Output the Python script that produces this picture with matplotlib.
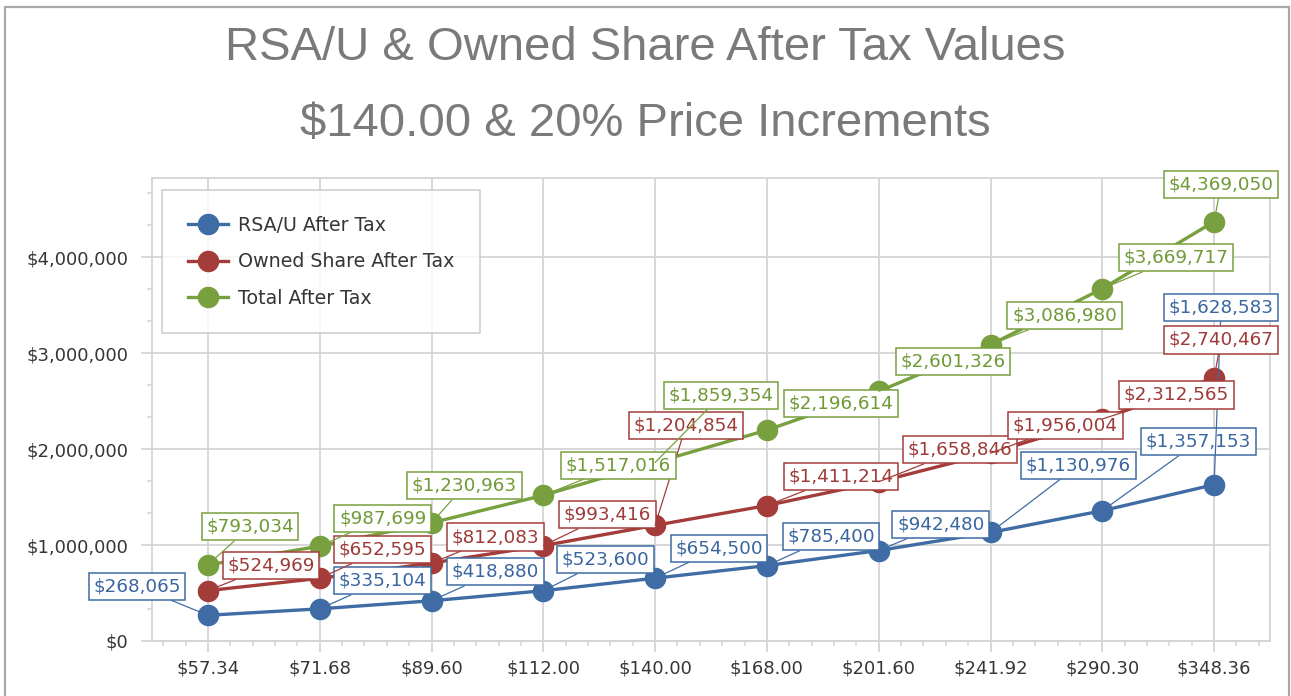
import matplotlib
matplotlib.use("Agg")
import matplotlib.pyplot as plt
from matplotlib.ticker import FixedLocator, MultipleLocator, FuncFormatter
from matplotlib.patches import Rectangle

# --- data ---
prices = ["$57.34", "$71.68", "$89.60", "$112.00", "$140.00",
          "$168.00", "$201.60", "$241.92", "$290.30", "$348.36"]
rsa_after_tax = [268065, 335104, 418880, 523600, 654500,
                 785400, 942480, 1130976, 1357153, 1628583]
owned_after_tax = [524969, 652595, 812083, 993416, 1204854,
                   1411214, 1658846, 1956004, 2312565, 2740467]
total_after_tax = [793034, 987699, 1230963, 1517016, 1859354,
                   2196614, 2601326, 3086980, 3669717, 4369050]
series_names = ["RSA/U After Tax", "Owned Share After Tax", "Total After Tax"]

# --- label offsets (pixels, from point to label centre) ---
rsa_offsets = [(-71, 29), (63, 28), (64, 29), (62, 31), (64, 30),
               (64, 29), (62, 26), (88, 67), (96, 69), (7, 177)]
owned_offsets = [(63, 25), (63, 29), (64, 26), (64, 31), (31, 100),
                 (74, 29), (81, 32), (75, 28), (74, 24), (7, 38)]
total_offsets = [(42, 38), (63, 28), (33, 37), (75, 30), (66, 67),
                 (74, 27), (74, 30), (74, 29), (74, 31), (7, 37)]

colors = ["#3F6CA4", "#A43C3A", "#78A03E"]
text_colors = ["#3A66A0", "#9E3A38", "#6F9A35"]
grid_col = "#D4D4D4"
tick_col = "#363636"

plt.rcParams["font.family"] = ["DejaVu Sans"]

fig = plt.figure(figsize=(12.91, 6.96), dpi=100)
ax = fig.add_axes([152 / 1291, 55 / 696, 1118 / 1291, 463 / 696])

x = list(range(len(prices)))
all_values = [rsa_after_tax, owned_after_tax, total_after_tax]
all_offsets = [rsa_offsets, owned_offsets, total_offsets]

for vals, offs, name, c, tc in zip(all_values, all_offsets, series_names,
                                   colors, text_colors):
    ax.plot(x, vals, color=c, lw=2.4, marker="o", ms=14.5,
            label=name, zorder=3)
    for xi, v, (dx, dy) in zip(x, vals, offs):
        ax.annotate("${:,.0f}".format(v), xy=(xi, v), xytext=(dx, dy),
                    textcoords="offset pixels", ha="center", va="center",
                    fontsize=13.2, color=tc, zorder=5,
                    bbox=dict(boxstyle="square,pad=0.25", fc="white",
                              ec=c, lw=1.1),
                    arrowprops=dict(arrowstyle="-", color=c, lw=0.9,
                                    shrinkA=0, shrinkB=0))

ax.set_xlim(-0.5, len(prices) - 0.5)
ax.set_ylim(0, 4.823e6)

ax.xaxis.set_major_locator(FixedLocator(x))
ax.set_xticklabels(prices)
ax.xaxis.set_minor_locator(MultipleLocator(0.2))
ax.yaxis.set_major_locator(MultipleLocator(1e6))
ax.yaxis.set_minor_locator(MultipleLocator(1e6 / 3))
ax.yaxis.set_major_formatter(FuncFormatter(lambda v, p: "${:,.0f}".format(v)))

ax.grid(True, which="major", color=grid_col, lw=1.3, zorder=0)
ax.set_axisbelow(True)
for side in ["left", "bottom", "top", "right"]:
    ax.spines[side].set_color(grid_col)
    ax.spines[side].set_linewidth(1.3)

ax.tick_params(axis="both", which="major", length=8, width=1.3,
               color=grid_col, labelsize=13, labelcolor=tick_col)
ax.tick_params(axis="both", which="minor", length=3.5, width=1.1,
               color=grid_col)
ax.tick_params(axis="x", which="major", pad=5)
ax.tick_params(axis="y", which="major", pad=9)

leg = ax.legend(loc="upper left", bbox_to_anchor=(0.009, 0.974),
                fontsize=13.7, frameon=True, fancybox=False,
                borderpad=1.35, labelspacing=0.92, handlelength=2.1,
                handletextpad=0.55, borderaxespad=0)
leg.get_frame().set_edgecolor("#C8C8C8")
leg.get_frame().set_linewidth(1.3)
for t in leg.get_texts():
    t.set_color(tick_col)

fig.text(0.5, 1 - 48 / 696, "RSA/U & Owned Share After Tax Values",
         ha="center", va="center", fontsize=34, color="#7A7A7A",
         family="Liberation Sans")
fig.text(0.5, 1 - 124 / 696, "$140.00 & 20% Price Increments",
         ha="center", va="center", fontsize=34, color="#7A7A7A",
         family="Liberation Sans")

fig.patches.append(Rectangle((5 / 1291, -0.05), 1284 / 1291, 1.05 - 7 / 696,
                             transform=fig.transFigure, fill=False,
                             ec="#A8A8A8", lw=1.6))

fig.savefig("out.png", dpi=100)
